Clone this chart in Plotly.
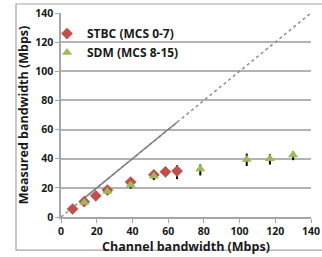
import plotly.graph_objects as go

# data
stbc_x = [6.5, 13, 19.5, 26, 39, 52, 58.5, 65]
stbc_y = [5.5, 10.5, 14.5, 18.5, 24, 29, 31, 31.5]
stbc_err_plus = [0.5, 0.8, 0.5, 1.0, 1.0, 1.0, 2.5, 4.0]
stbc_err_minus = [0.5, 0.8, 0.5, 1.0, 1.0, 2.0, 3.0, 5.5]

sdm_x = [13, 26, 39, 52, 78, 104, 117, 130]
sdm_y = [10, 17.5, 22, 28, 33, 39.5, 40, 42.5]
sdm_err_plus = [0.5, 0.5, 1.0, 1.0, 3.0, 4.0, 3.0, 2.5]
sdm_err_minus = [0.5, 0.5, 2.5, 2.5, 4.5, 4.5, 4.0, 3.5]

ref_x = [0, 140]
ref_solid_x = [13, 65]

x_ticks = [0, 20, 40, 60, 80, 100, 120, 140]
y_ticks = [0, 20, 40, 60, 80, 100, 120, 140]

red = "#c0504d"
green = "#9bbb59"
font_family = "'Open Sans', Lato, sans-serif"

fig = go.Figure()

fig.add_trace(go.Scatter(x=ref_x, y=ref_x, mode="lines",
                         line=dict(color="#8c8c8c", width=1.5, dash="dot"),
                         showlegend=False, hoverinfo="skip"))
fig.add_trace(go.Scatter(x=ref_solid_x, y=ref_solid_x, mode="lines",
                         line=dict(color="#7f7f7f", width=1.5),
                         showlegend=False, hoverinfo="skip"))

fig.add_trace(go.Scatter(
    x=stbc_x, y=stbc_y, mode="markers", name="STBC (MCS 0-7)",
    marker=dict(symbol="diamond", size=9, color=red),
    error_y=dict(type="data", array=stbc_err_plus, arrayminus=stbc_err_minus,
                 color="black", thickness=2, width=0)))
fig.add_trace(go.Scatter(
    x=sdm_x, y=sdm_y, mode="markers", name="SDM (MCS 8-15)",
    marker=dict(symbol="triangle-up", size=9, color=green),
    error_y=dict(type="data", array=sdm_err_plus, arrayminus=sdm_err_minus,
                 color="black", thickness=2, width=0)))

fig.add_shape(type="rect", xref="paper", yref="paper",
              x0=-0.18, x1=1.06, y0=-0.162, y1=1.044,
              line=dict(color="#a6a6a6", width=1.2), layer="above")

fig.update_layout(
    width=322, height=257,
    margin=dict(l=61, r=11, t=13, b=40, autoexpand=False),
    paper_bgcolor="white", plot_bgcolor="white",
    font=dict(family=font_family, size=11, color="#1a1a1a"),
    legend=dict(x=-0.056, y=0.97, xanchor="left", yanchor="top",
                bgcolor="rgba(0,0,0,0)",
                font=dict(size=12, family=font_family, weight="bold"),
                tracegroupgap=0, itemwidth=30),
    xaxis=dict(range=[0, 140], tickvals=x_ticks, showgrid=False,
               automargin=False,
               showline=True, linecolor="#a6a6a6", linewidth=1.5,
               ticks="outside", tickcolor="#a6a6a6", ticklen=4,
               tickfont=dict(size=10.5, weight="bold"),
               title=dict(text="Channel bandwidth (Mbps)", standoff=0,
                          font=dict(size=12.5, weight="bold")),
               zeroline=False),
    yaxis=dict(range=[0, 140], tickvals=y_ticks, showgrid=True,
               automargin=False,
               gridcolor="#b3b3b3", gridwidth=2,
               showline=True, linecolor="#a6a6a6", linewidth=1.5,
               ticks="outside", tickcolor="#a6a6a6", ticklen=4,
               tickfont=dict(size=10.5, weight="bold"),
               title=dict(text="Measured bandwidth (Mbps)", standoff=4,
                          font=dict(size=12.5, weight="bold")),
               zeroline=False),
)

fig.write_html("out.html", config={"displayModeBar": False},
               post_script="document.body.style.margin='0';")
